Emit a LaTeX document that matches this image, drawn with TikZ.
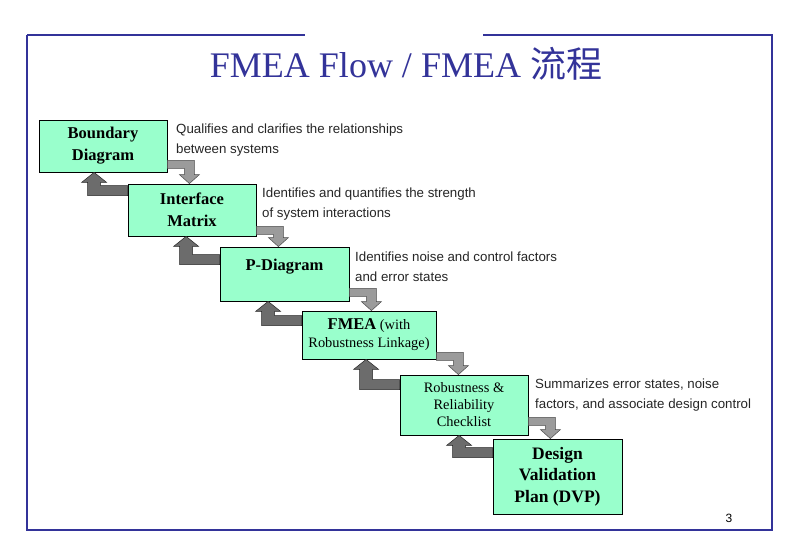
\documentclass[tikz,border=0pt]{standalone}
\usepackage{fontspec}
\setmainfont{Liberation Serif}
\newfontfamily\arialf{Liberation Sans}
\newfontfamily\cjkf{Noto Sans CJK SC}
\usetikzlibrary{calc}
\definecolor{titleblue}{RGB}{51,51,153}
\definecolor{mint}{RGB}{153,255,204}
\definecolor{lightgrey}{RGB}{155,155,155}
\definecolor{darkgrey}{RGB}{108,108,108}
\tikzset{
  box/.style={draw=black, line width=0.8pt, fill=mint, inner sep=0pt, align=center},
  boldtxt/.style={font=\bfseries\fontsize{16.5}{22}\selectfont},
  desc/.style={font=\arialf\fontsize{13.3}{20}\selectfont, text=black!85, anchor=base west, align=left, inner sep=0pt},
  lightarrow/.style={fill=lightgrey, draw=black!70, line width=0.5pt},
  darkarrow/.style={fill=darkgrey, draw=black!85, line width=0.5pt},
  frame/.style={draw=titleblue, line width=1.1pt}
}
\newcommand{\lightarr}[3]{%
  \path[lightarrow] let \p1=(#1.south east), \p2=(#2.north) in
  (\x1,\y1+#3pt) -- (\x1+27pt,\y1+#3pt) -- (\x1+27pt,\y2+9pt) -- (\x1+32pt,\y2+9pt)
  -- (\x1+22pt,\y2) -- (\x1+12pt,\y2+9pt) -- (\x1+17pt,\y2+9pt)
  -- (\x1+17pt,\y1+#3pt-8pt) -- (\x1,\y1+#3pt-8pt) -- cycle;}
\newcommand{\darkarr}[3]{%
  \path[darkarrow] let \p1=(#1.north west), \p2=(#2.south) in
  (\x1,\y1-#3pt) -- (\x1-27pt,\y1-#3pt) -- (\x1-27pt,\y2-10pt) -- (\x1-21pt,\y2-10pt)
  -- (\x1-33.5pt,\y2) -- (\x1-46pt,\y2-10pt) -- (\x1-40pt,\y2-10pt)
  -- (\x1-40pt,\y1-#3pt-10pt) -- (\x1,\y1-#3pt-10pt) -- cycle;}
\begin{document}
\begin{tikzpicture}[x=1pt,y=1pt]
\useasboundingbox (0,0) rectangle (800,-553);
\fill[white] (0,0) rectangle (800,-553);
% frame
\draw[frame] (27,-35) -- (305,-35);
\draw[frame] (483,-35) -- (772,-35) -- (772,-530) -- (27,-530) -- (27,-35);
% title
\node[anchor=base, text=titleblue, font=\fontsize{36}{40}\selectfont, inner sep=0pt] (title) at (406,-78) {FMEA Flow / FMEA {\cjkf 流程}};
% boxes
\node[box, boldtxt, minimum width=128, minimum height=52] (bd) at (103,-146) {Boundary\\Diagram};
\node[box, boldtxt, minimum width=128, minimum height=52] (im) at (192,-210) {Interface\\Matrix};
\node[box, boldtxt, minimum width=129, minimum height=54, text height=12pt, text depth=20pt] (pd) at (284.5,-274) {P-Diagram};
\node[box, minimum width=134, minimum height=48, font=\fontsize{14.4}{18}\selectfont] (fm) at (369,-335) {{\bfseries\fontsize{16.5}{18}\selectfont FMEA} (with\\Robustness Linkage)};
\node[box, minimum width=128, minimum height=60, font=\fontsize{14.4}{17}\selectfont] (rr) at (464,-405) {Robustness \&\\Reliability\\Checklist};
\node[box, minimum width=129, minimum height=75, font=\bfseries\fontsize{17.5}{21.5}\selectfont] (dv) at (557.5,-476.5) {Design\\Validation\\Plan (DVP)};
% connectors
\lightarr{bd}{im}{12}
\lightarr{im}{pd}{10}
\lightarr{pd}{fm}{13}
\lightarr{fm}{rr}{7}
\lightarr{rr}{dv}{18}
\darkarr{im}{bd}{2}
\darkarr{pd}{im}{8}
\darkarr{fm}{pd}{5}
\darkarr{rr}{fm}{5}
\darkarr{dv}{rr}{9}
% descriptions (base = baseline of last line)
\node[desc] (d1) at (176,-154) {Qualifies and clarifies the relationships\\between systems};
\node[desc] (d2) at (262,-218) {Identifies and quantifies the strength\\of system interactions};
\node[desc] (d3) at (355,-281) {Identifies noise and control factors\\and error states};
\node[desc] (d4) at (535,-408) {Summarizes error states, noise\\factors, and associate design control};
% page number
\node[anchor=base, font=\arialf\fontsize{12}{14}\selectfont, inner sep=0pt] (pg) at (729,-522) {3};
\end{tikzpicture}
\end{document}
